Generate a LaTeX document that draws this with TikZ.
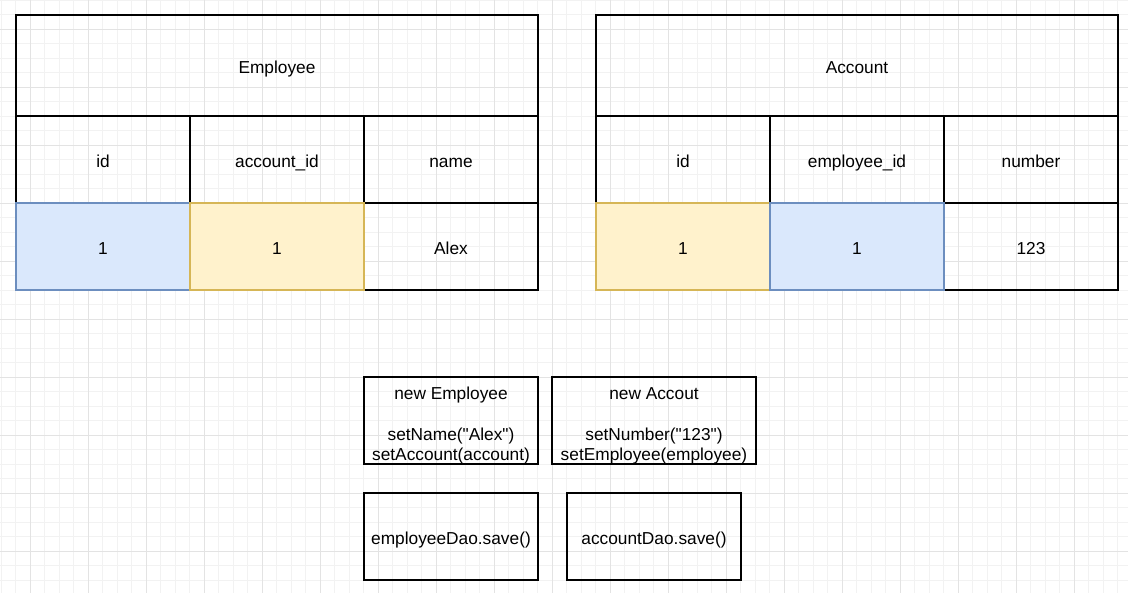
\documentclass[tikz,border=0pt]{standalone}
\usepackage{fontspec}
\setmainfont{Liberation Sans}[Ligatures=TeXOff]
\usepackage{tikz}

\definecolor{bluefill}{HTML}{DAE8FC}
\definecolor{bluedraw}{HTML}{6C8EBF}
\definecolor{yellowfill}{HTML}{FFF2CC}
\definecolor{yellowdraw}{HTML}{D6B656}
\definecolor{gridminor}{HTML}{F2F2F2}
\definecolor{gridmajor}{HTML}{E3E3E3}

\begin{document}
\begin{tikzpicture}[x=1pt, y=-1pt,
	font=\fontsize{17.3}{20.5}\selectfont,
	box/.style={draw=black, line width=1.2pt, rectangle, inner sep=0pt,
		minimum width=174pt, minimum height=87pt, align=center},
	cell/.style={box, text height=15.4pt, text depth=0pt},
	title/.style={cell, minimum width=522pt, minimum height=101pt},
	bluecell/.style={cell, fill=bluefill, draw=bluedraw},
	yellowcell/.style={cell, fill=yellowfill, draw=yellowdraw},
	code/.style={box, text height=80.3pt, text depth=0pt}]
			\useasboundingbox (0,0) rectangle (1128,593);
			% grid
			\foreach \i in {0,...,78} {
				\draw[gridminor, line width=0.8pt] ({1.3+14.5*\i},0) -- ({1.3+14.5*\i},593);
			}
			\foreach \i in {0,...,41} {
				\draw[gridminor, line width=0.8pt] (0,{0.3+14.5*\i}) -- (1128,{0.3+14.5*\i});
			}
			\foreach \i in {0,...,19} {
				\draw[gridmajor, line width=0.8pt] ({30.3+58*\i},0) -- ({30.3+58*\i},593);
			}
			\foreach \i in {0,...,10} {
				\draw[gridmajor, line width=0.8pt] (0,{29.3+58*\i}) -- (1128,{29.3+58*\i});
			}

			% Employee table
			\node (emp) [title] at (277,65.5){Employee};
			\node (empId) [cell] at (103,159.5){id};
			\node (empAcc) [cell] at (277,159.5){account\_id};
			\node (empName) [cell] at (451,159.5){name};
			\node (empVal3) [cell] at (451,246.5){Alex};
			\node (empVal1) [bluecell] at (103,246.5){1};
			\node (empVal2) [yellowcell] at (277,246.5){1};

			% Account table
			\node (acc) [title] at (857,65.5){Account};
			\node (accId) [cell] at (683,159.5){id};
			\node (accEmp) [cell] at (857,159.5){employee\_id};
			\node (accNum) [cell] at (1031,159.5){number};
			\node (accVal3) [cell] at (1031,246.5){123};
			\node (accVal1) [yellowcell] at (683,246.5){1};
			\node (accVal2) [bluecell] at (857,246.5){1};

			% code steps
			\node (newEmp) [code] at (451,420.5){new Employee\\[20.5pt]setName("Alex")\\setAccount(account)};
			\node (newAcc) [code, minimum width=204pt] at (654,420.5){new Accout\\[20.5pt]setNumber("123")\\setEmployee(employee)};
			\node (empSave) [cell] at (451,536.5){employeeDao.save()};
			\node (accSave) [cell] at (654,536.5){accountDao.save()};
		\end{tikzpicture}
\end{document}
